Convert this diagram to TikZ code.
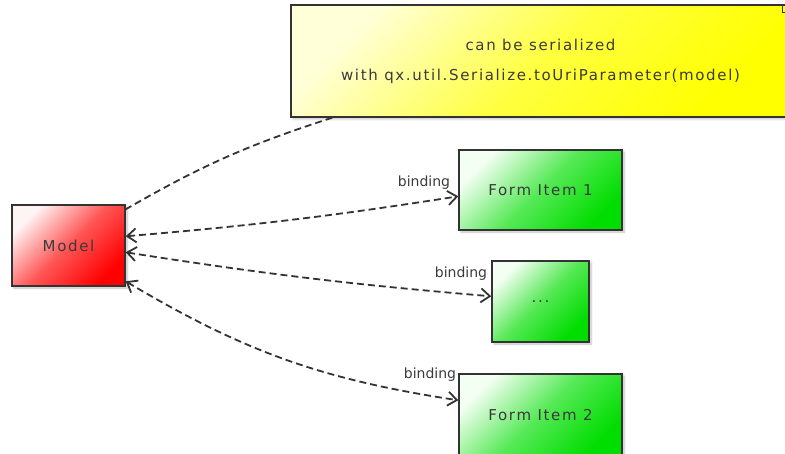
\documentclass[tikz,border=0pt]{standalone}
\usepackage{fontspec}
\setmainfont{DejaVu Sans}[LetterSpace=11]
\newfontfamily\lblfont{DejaVu Sans}
\usetikzlibrary{arrows.meta,shadows.blur,calc}
\definecolor{edgegray}{HTML}{333333}
\definecolor{textgray}{HTML}{3A3A3A}
\definecolor{redend}{HTML}{FF0000}
\definecolor{redstart}{HTML}{FFF4F4}
\definecolor{greenend}{HTML}{00DD00}
\definecolor{greenstart}{HTML}{F4FFF4}
\definecolor{yellowend}{HTML}{FFFF00}
\definecolor{yellowstart}{HTML}{FFFFD8}
\tikzset{
  box/.style={draw=edgegray, line width=1.4pt, inner sep=0pt, text=textgray,
    font=\fontsize{15}{18}\selectfont,
    blur shadow={shadow xshift=2pt, shadow yshift=-2pt, shadow blur steps=6, shadow opacity=25}},
  redbox/.style={box, top color=redstart, bottom color=redend, middle color=redend!65!redstart, shading angle=45},
  greenbox/.style={box, top color=greenstart, bottom color=greenend, middle color=greenend!65!greenstart, shading angle=45},
  notebox/.style={box, top color=yellowstart, bottom color=yellowend, middle color=yellowend!70!yellowstart, shading angle=45, align=center,
    font=\fontsize{15}{30}\selectfont},
  link/.style={draw=edgegray, line width=1.8pt, dash pattern=on 7pt off 4pt},
  bind/.style={link, {Straight Barb[length=9pt,width=14pt]}-{Straight Barb[length=9pt,width=14pt]}},
  lbl/.style={font=\lblfont\fontsize{14}{16}\selectfont, text=textgray, inner sep=0pt, anchor=east},
}
\begin{document}
\begin{tikzpicture}[x=1pt, y=-1pt]
\path[use as bounding box] (0,0) rectangle (785,454);
\clip (0,0) rectangle (785,454);

\node[notebox, minimum width=499pt, minimum height=112pt] (note) at (540.5,61)
  {can be serialized\\with qx.util.Serialize.toUriParameter(model)};
\node[redbox, minimum width=113pt, minimum height=81pt] (model) at (68.5,245.5) {Model};
\node[greenbox, minimum width=163pt, minimum height=80pt] (fi1) at (540.5,190) {Form Item 1};
\node[greenbox, minimum width=97pt, minimum height=81pt] (dots) at (540.5,301.5) {...};
\node[greenbox, minimum width=163pt, minimum height=82pt] (fi2) at (540.5,415) {Form Item 2};

% folded corner of the note
\coordinate (foldA) at ($(note.north east)+(-8,0)$);
\coordinate (foldB) at ($(note.north east)+(0,8)$);
\draw[edgegray, line width=1.1pt] (foldA) -- (foldA|-foldB) -- (foldB);

\draw[link] ($(note.south west)+(42,0)$) to[bend right=6] ($(model.north east)+(0,5)$);
\draw[bind] ($(model.north east)+(0,32)$) to[bend right=2] ($(fi1.north west)+(0,47)$);
\draw[bind] ($(model.north east)+(0,48)$) to[bend right=2] ($(dots.north west)+(0,36)$);
\draw[bind] ($(model.north east)+(0,77)$) to[bend right=11] ($(fi2.north west)+(0,27)$);

\node[lbl] (b1) at ($(fi1.north west)+(-8,33)$) {binding};
\node[lbl] (b2) at ($(dots.north west)+(-4,13)$) {binding};
\node[lbl] (b3) at ($(fi2.north west)+(-2,1)$) {binding};
\end{tikzpicture}
\end{document}
